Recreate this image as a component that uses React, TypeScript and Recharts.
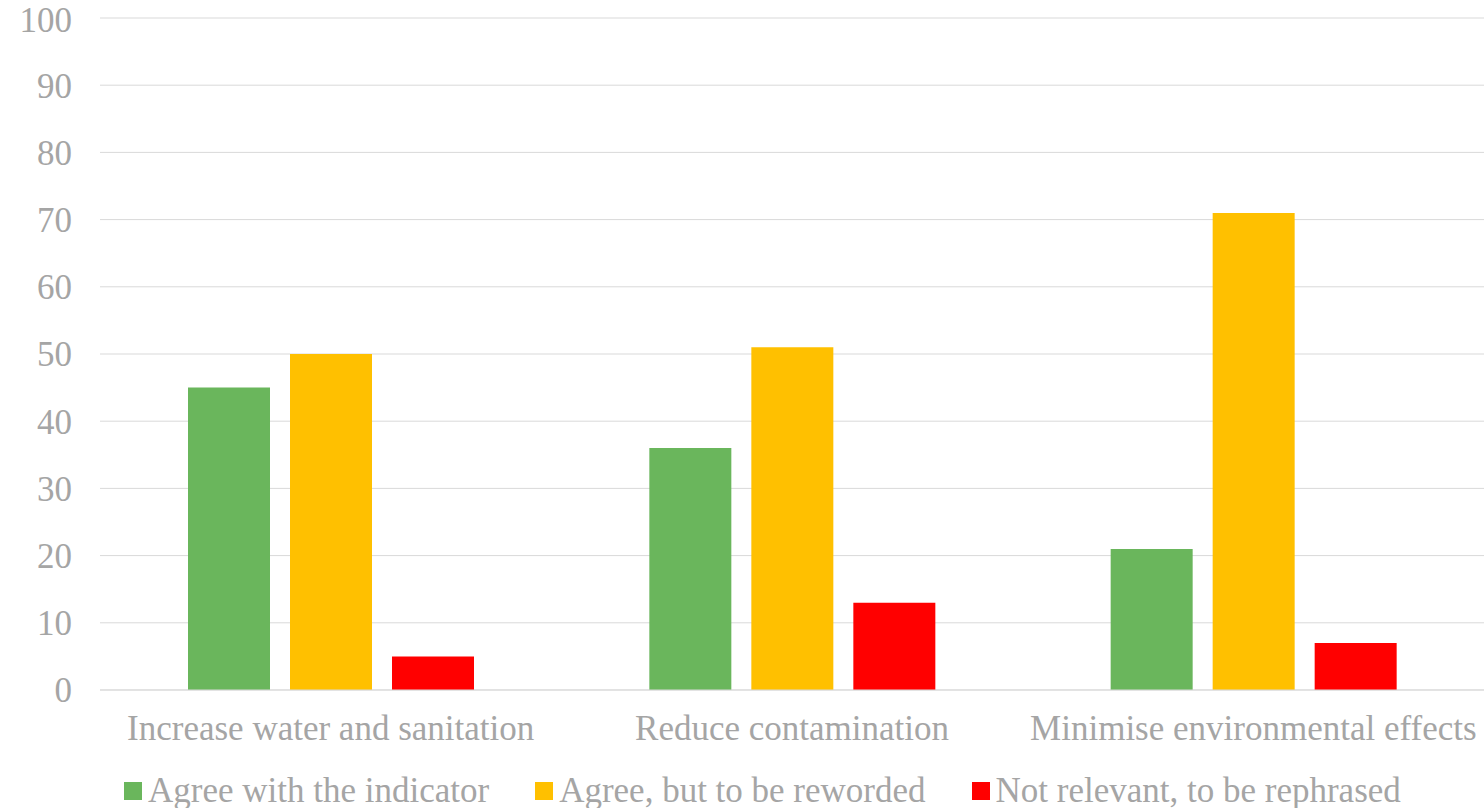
import { BarChart, Bar, XAxis, YAxis, CartesianGrid, Legend } from 'recharts'

const categories = ['Increase water and sanitation', 'Reduce contamination', 'Minimise environmental effects']
const agreeValues = [45, 36, 21]
const rewordValues = [50, 51, 71]
const notRelevantValues = [5, 13, 7]
const yTicks = [0, 10, 20, 30, 40, 50, 60, 70, 80, 90, 100]

const seriesNames = ['Agree with the indicator', 'Agree, but to be reworded', 'Not relevant, to be rephrased']
const seriesColors = ['#6ab65c', '#ffc000', '#ff0000']

const chartData = categories.map((name, i) => ({
  name,
  agree: agreeValues[i],
  reword: rewordValues[i],
  notRelevant: notRelevantValues[i],
}))

const FONT = '"Liberation Serif", serif'
const TEXT_COLOR = '#a5a5a5'

function renderLegend() {
  return (
    <div
      style={{
        display: 'flex',
        paddingLeft: 124,
        paddingTop: 21,
        gap: 46,
        fontFamily: FONT,
        fontSize: 35,
        lineHeight: '40px',
        color: TEXT_COLOR,
      }}
    >
      {seriesNames.map((n, i) => (
        <div key={n} style={{ display: 'flex', alignItems: 'center', whiteSpace: 'nowrap' }}>
          <span style={{ width: 18, height: 18, background: seriesColors[i], marginRight: 6, display: 'inline-block' }} />
          <span>{n}</span>
        </div>
      ))}
    </div>
  )
}

export default function App() {
  return (
    <div style={{ position: 'absolute', left: 0, top: 0, background: '#fff' }}>
      <BarChart
        width={1484}
        height={808}
        data={chartData}
        margin={{ top: 18, right: 0, left: 0, bottom: 0 }}
        barGap={20}
        barCategoryGap={88}
      >
        <CartesianGrid vertical={false} stroke="#d9d9d9" />
        <XAxis
          dataKey="name"
          height={60}
          tickLine={false}
          axisLine={{ stroke: '#d9d9d9' }}
          tickMargin={19}
          tick={{ fill: TEXT_COLOR, fontSize: 35, fontFamily: FONT }}
          interval={0}
        />
        <YAxis
          width={100}
          domain={[0, 100]}
          ticks={yTicks}
          tickLine={false}
          axisLine={false}
          tickMargin={22}
          tick={{ fill: TEXT_COLOR, fontSize: 35, fontFamily: FONT }}
        />
        <Legend verticalAlign="bottom" height={58} content={renderLegend} />
        <Bar dataKey="agree" name={seriesNames[0]} fill={seriesColors[0]} isAnimationActive={false} />
        <Bar dataKey="reword" name={seriesNames[1]} fill={seriesColors[1]} isAnimationActive={false} />
        <Bar dataKey="notRelevant" name={seriesNames[2]} fill={seriesColors[2]} isAnimationActive={false} />
      </BarChart>
    </div>
  )
}
